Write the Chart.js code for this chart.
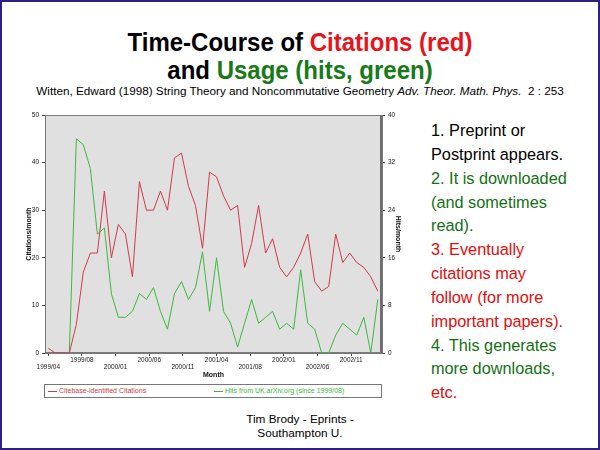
<!DOCTYPE html>
<html>
<head>
<meta charset="utf-8">
<script src="https://cdn.jsdelivr.net/npm/chart.js@4.4.0/dist/chart.umd.min.js"></script>
<style>
  html, body { margin: 0; padding: 0; }
  body { width: 600px; height: 450px; position: relative; overflow: hidden; background: #fff;
         font-family: 'Liberation Sans', Arial, sans-serif; }
  .frame { position: absolute; left: 0; top: 0; width: 596px; height: 446px; border: 2px solid #2d1f87; }
  .title { position: absolute; left: 0; width: 600px; text-align: center; white-space: nowrap;
           font-weight: bold; font-size: 24px; line-height: 1; transform: scaleY(1.1); transform-origin: 50% 85%; }
  .sub { position: absolute; left: 0; width: 600px; text-align: center; white-space: nowrap;
         font-size: 11.7px; line-height: 1; top: 85px; }
  .red { color: #e8141c; }
  .green { color: #177a17; }
  .notes { position: absolute; left: 431px; top: 119px; font-size: 16.3px; line-height: 23.85px; white-space: nowrap; }
  .notes .g { color: #137013; }
  .notes .r { color: #e30b0b; }
  .credit { position: absolute; left: 0; width: 600px; top: 413px; text-align: center;
            font-size: 11.8px; line-height: 13.5px; }
  #chartBox { position: absolute; left: 0; top: 105px; width: 402px; height: 274px; }
  #legend { position: absolute; left: 44px; top: 384px; width: 336px; height: 12px;
            border: 1px solid #777; background: #fff; }
  #legend .item { position: absolute; top: 0; height: 12px; line-height: 12px; font-size: 7px; white-space: nowrap; }
  #legend .item:nth-child(1) { left: 3px; }
  #legend .item:nth-child(2) { left: 169px; }
  #legend .swatch { display: inline-block; width: 9px; height: 0; border-top: 1px solid; vertical-align: middle; margin-right: 2px; }
</style>
</head>
<body>
<div class="frame"></div>
<div class="title" style="top:30.5px">Time-Course of <span class="red">Citations (red)</span></div>
<div class="title" style="top:58.5px">and <span class="green">Usage (hits, green)</span></div>
<div class="sub">Witten, Edward (1998) String Theory and Noncommutative Geometry <i>Adv. Theor. Math. Phys.</i>&nbsp; 2 : 253</div>

<div id="chartBox"><canvas id="chart" width="402" height="274"></canvas></div>
<div id="legend"></div>

<div class="notes">
  <div>1. Preprint or</div>
  <div>Postprint appears.</div>
  <div class="g">2. It is downloaded</div>
  <div class="g">(and sometimes</div>
  <div class="g">read).</div>
  <div class="r">3. Eventually</div>
  <div class="r">citations may</div>
  <div class="r">follow (for more</div>
  <div class="r">important papers).</div>
  <div class="g">4. This generates</div>
  <div class="g">more downloads,</div>
  <div class="r">etc.</div>
</div>
<div class="credit">Tim Brody - Eprints -<br>Southampton U.</div>

<script>
const months = [
  '1999/04', '1999/05', '1999/06', '1999/07', '1999/08', '1999/09', '1999/10', '1999/11', '1999/12',
  '2000/01', '2000/02', '2000/03', '2000/04', '2000/05', '2000/06', '2000/07', '2000/08', '2000/09',
  '2000/10', '2000/11', '2000/12', '2001/01', '2001/02', '2001/03', '2001/04', '2001/05', '2001/06',
  '2001/07', '2001/08', '2001/09', '2001/10', '2001/11', '2001/12', '2002/01', '2002/02', '2002/03',
  '2002/04', '2002/05', '2002/06', '2002/07', '2002/08', '2002/09', '2002/10', '2002/11', '2002/12',
  '2003/01', '2003/02', '2003/03',
];
// citations per month (left axis)
const citations = [
  1, 0, 0, 0, 6, 17, 21, 21, 34, 20, 27, 25, 16, 36, 30, 30,
  34, 30, 41, 42, 35, 31, 22, 38, 37, 33, 30, 31, 18, 23, 31, 21,
  24, 18, 16, 18, 21, 25, 15, 13, 14, 25, 19, 21, 19, 18, 16, 13,
];
// hits per month (right axis), none before mid 1999
const hits = [
  null, null, null, 0, 36, 35, 31, 20, 21, 10, 6, 6, 7, 10, 9, 11,
  7, 4, 10, 12, 9, 11, 17, 7, 16, 7, 5, 1, 5, 9, 5, 6,
  7, 4, 5, 4, 14, 5, 4, 0, 0, 3, 5, 4, 3, 6, 0, 9,
];
const xTickLabels = ['1999/04', '1999/08', '2000/01', '2000/06', '2000/11', '2001/04', '2001/08', '2002/01', '2002/06', '2002/11'];
const xTickStep = 4.8; // months between date ticks

const tinyFont = { family: "'Liberation Sans', Arial, sans-serif", size: 6.5 };
const titleFont = { family: "'Liberation Sans', Arial, sans-serif", size: 7, weight: 'bold' };

const plotBg = {
  id: 'plotBg',
  beforeDraw(chart) {
    const { ctx, chartArea: a } = chart;
    ctx.save();
    ctx.fillStyle = '#e0e0e0';
    ctx.fillRect(a.left, a.top, a.width, a.height);
    ctx.strokeStyle = '#7a7a7a';
    ctx.lineWidth = 1;
    ctx.strokeRect(a.left + 0.5, a.top + 0.5, a.width - 1, a.height - 1);
    ctx.fillStyle = '#6e6e6e';
    ctx.fillRect(a.right - 2, a.top, 2, a.height);
    ctx.restore();
  },
};

const chart = new Chart(document.getElementById('chart'), {
  type: 'line',
  data: {
    datasets: [
      {
        label: 'Citebase-identified Citations',
        data: months.map((m, i) => ({ x: i, y: citations[i] })),
        borderColor: '#d3394a',
        borderWidth: 1,
        pointRadius: 0,
        yAxisID: 'y',
      },
      {
        label: 'Hits from UK.arXiv.org (since 1999/08)',
        data: months.map((m, i) => ({ x: i, y: hits[i] })),
        borderColor: '#3cb93c',
        borderWidth: 1,
        pointRadius: 0,
        yAxisID: 'y1',
      },
    ],
  },
  options: {
    responsive: false,
    animation: false,
    layout: { padding: { left: 25, top: 10, right: 0, bottom: 0 } },
    plugins: { legend: { display: false }, tooltip: { enabled: false } },
    scales: {
      x: {
        type: 'linear',
        min: -0.47,
        max: 47.6,
        afterBuildTicks: (axis) => {
          axis.ticks = xTickLabels.map((t, k) => ({ value: k * xTickStep }));
        },
        afterFit: (axis) => { axis.height = 26; },
        ticks: {
          autoSkip: false,
          maxRotation: 0,
          padding: 0,
          font: tinyFont,
          color: '#222',
          callback: (v, i) => (i % 2 ? [xTickLabels[i], ''] : ['', xTickLabels[i]]),
        },
        grid: { drawOnChartArea: false, tickLength: 3, color: '#444' },
        border: { color: '#777' },
        title: { display: true, text: 'Month', font: titleFont, color: '#111', padding: 0 },
      },
      y: {
        position: 'left',
        min: 0,
        max: 50,
        afterFit: (axis) => { axis.width = 20; },
        ticks: { stepSize: 10, padding: 3, font: tinyFont, color: '#222' },
        grid: { drawOnChartArea: false, tickLength: 3, color: '#444' },
        border: { color: '#777' },
        title: { display: true, text: 'Citations/month', font: titleFont, color: '#111', padding: 0 },
      },
      y1: {
        position: 'right',
        min: 0,
        max: 40,
        afterFit: (axis) => { axis.width = 20; },
        ticks: { stepSize: 8, padding: 3, font: tinyFont, color: '#222' },
        grid: { drawOnChartArea: false, tickLength: 3, color: '#444' },
        border: { color: '#777' },
        title: { display: true, text: 'Hits/month', font: titleFont, color: '#111', padding: 0 },
      },
    },
  },
  plugins: [plotBg],
});

// framed legend under the chart, built from the datasets
const legendBox = document.getElementById('legend');
chart.data.datasets.forEach((ds) => {
  const item = document.createElement('span');
  item.className = 'item';
  item.style.color = ds.borderColor;
  item.innerHTML = `<span class="swatch" style="border-color:${ds.borderColor}"></span>${ds.label}`;
  legendBox.appendChild(item);
});
</script>
</body>
</html>
